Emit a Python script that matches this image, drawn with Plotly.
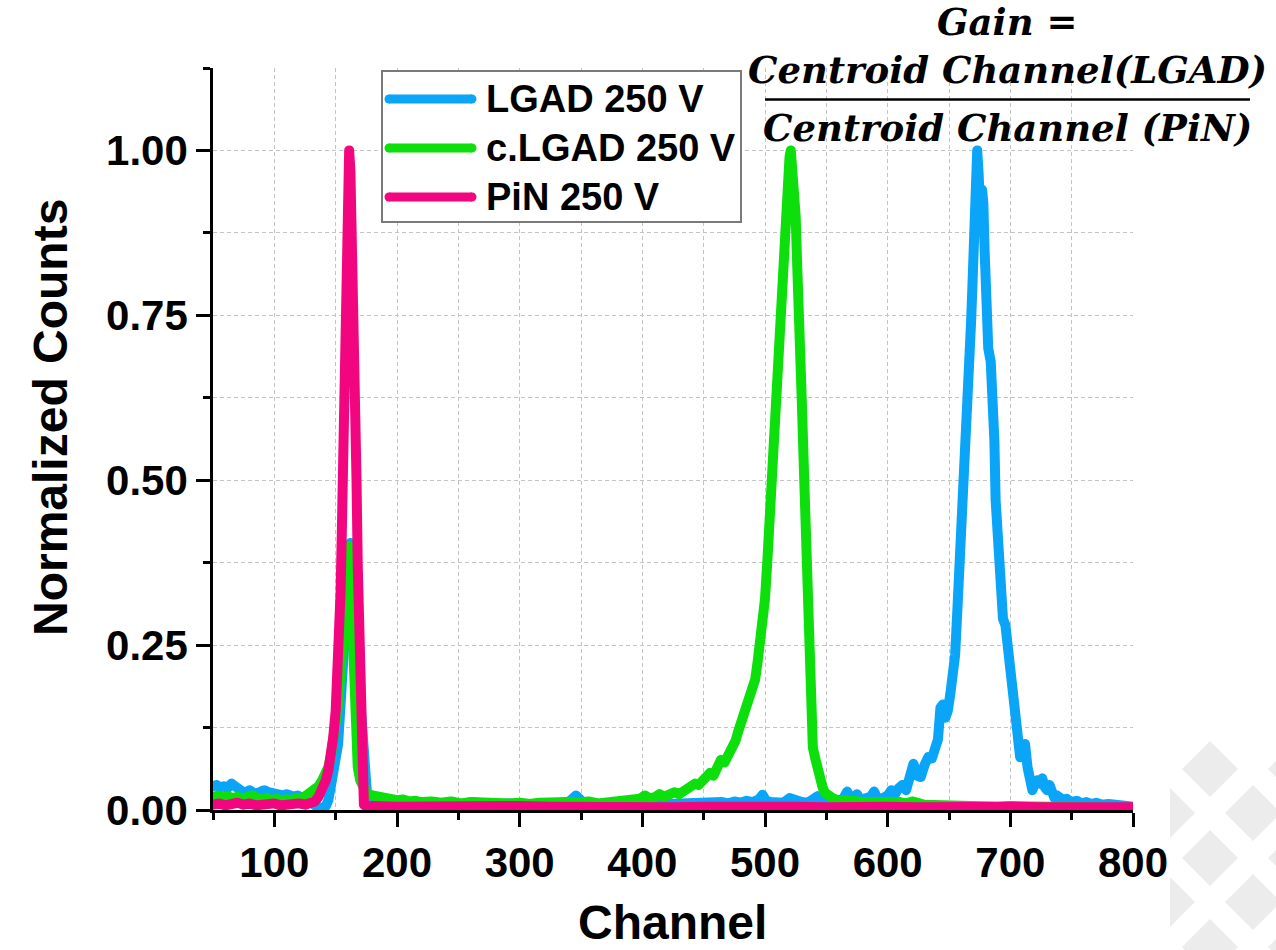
import plotly.graph_objects as go

# ---- spectra: channel / normalized counts ----
LGAD_CH = [50, 53, 56, 59, 62, 65, 68, 71, 74, 77, 80, 83, 86, 89, 92, 95, 98,
           101, 104, 107, 110, 113, 116, 119, 122, 125, 128, 131, 134, 137, 140,
           142, 144, 146, 148, 150, 152, 154, 156, 158, 159, 160, 161, 162, 163,
           164, 166, 168, 170, 171, 172, 173, 174, 176, 180, 185, 190, 195,
           200, 210, 220, 230, 240, 250, 260, 270, 280, 290, 300, 310, 320, 330,
           340, 346, 352, 360, 370, 380, 390, 400, 410, 420, 430, 440,
           445, 450, 455, 460, 465, 470, 475, 480, 485, 490, 495, 498, 501, 505,
           510, 515, 520, 525, 530, 535, 540, 543, 546, 550, 555, 560, 564, 567,
           570, 575, 578, 582, 586, 589, 592, 596, 600, 603, 606, 609, 612, 615,
           618, 621, 624, 627, 630, 633, 636, 639, 641, 643, 645, 647, 649, 651,
           653, 655, 657, 659, 661, 663, 665, 667, 668, 669, 670, 671, 672, 673,
           674, 675, 676, 677, 678, 679, 680, 681, 682, 684, 686, 687, 688, 690,
           692, 693, 694, 696, 698, 700, 702, 704, 706, 708, 710, 712, 714, 716,
           718, 720, 722, 724, 726, 728, 730, 732, 734, 736, 738, 740, 743, 746,
           750, 754, 758, 762, 766, 770, 775, 780, 785, 790, 795, 800]
LGAD_CNT = [0.036, 0.038, 0.034, 0.036, 0.033, 0.040, 0.036, 0.030, 0.028, 0.027,
            0.030, 0.026, 0.025, 0.028, 0.030, 0.027, 0.025, 0.027, 0.024, 0.022,
            0.024, 0.021, 0.020, 0.022, 0.020, 0.018, 0.015, 0.010, 0.006, 0.003,
            0.002, 0.006, 0.015, 0.035, 0.055, 0.070, 0.100, 0.160, 0.220, 0.290,
            0.330, 0.370, 0.400, 0.405, 0.330, 0.280, 0.260, 0.220, 0.170, 0.120,
            0.080, 0.045, 0.020, 0.012, 0.010, 0.011, 0.009, 0.010,
            0.010, 0.008, 0.010, 0.009, 0.011, 0.008, 0.012, 0.009, 0.008, 0.010,
            0.008, 0.009, 0.008, 0.010, 0.012, 0.022, 0.011, 0.009, 0.010, 0.008,
            0.009, 0.010, 0.011, 0.009, 0.010, 0.012,
            0.010, 0.013, 0.011, 0.014, 0.012, 0.010, 0.013, 0.011, 0.014, 0.012,
            0.016, 0.023, 0.014, 0.012, 0.013, 0.011, 0.018, 0.013, 0.012, 0.011,
            0.015, 0.021, 0.014, 0.012, 0.015, 0.013, 0.018, 0.028, 0.016, 0.024,
            0.015, 0.017, 0.020, 0.028, 0.016, 0.018, 0.022, 0.030, 0.024, 0.033,
            0.038, 0.030, 0.055, 0.070, 0.052, 0.050, 0.068, 0.080, 0.078, 0.095,
            0.107, 0.155, 0.160, 0.140, 0.150, 0.175, 0.205, 0.235, 0.310, 0.380,
            0.450, 0.500, 0.570, 0.660, 0.740, 0.790, 0.840, 0.900, 0.960, 1.000,
            0.970, 0.930, 0.900, 0.940, 0.920, 0.850, 0.790, 0.730, 0.700, 0.680,
            0.620, 0.560, 0.470, 0.400, 0.370, 0.330, 0.290, 0.280, 0.240, 0.200,
            0.160, 0.145, 0.120, 0.080, 0.090, 0.100, 0.065, 0.040, 0.030, 0.040,
            0.045, 0.040, 0.048, 0.035, 0.030, 0.038, 0.022, 0.018, 0.022, 0.018,
            0.015, 0.017, 0.012, 0.014, 0.010, 0.012, 0.009, 0.011, 0.008, 0.009,
            0.007, 0.008, 0.006, 0.005]

CLGAD_CH = [50, 54, 58, 62, 66, 70, 74, 78, 82, 86, 90, 94, 98, 102, 106, 110,
            114, 118, 122, 126, 130, 133, 136, 139, 142, 144, 146, 148, 150, 152,
            154, 156, 158, 159, 160, 161, 162, 163, 164, 165, 166, 167, 168, 170,
            172, 175, 180, 185, 190, 195, 200, 205, 210, 215, 220, 228, 236, 244,
            252, 260, 268, 276, 284, 292, 300, 308, 316, 324, 332, 340, 348, 356,
            364, 372, 380, 388, 394, 398, 402, 406, 410, 414, 418, 422, 426, 430,
            434, 437, 440, 443, 446, 449, 452, 455, 458, 461, 464, 467, 470, 473,
            476, 478, 480, 482, 484, 486, 488, 490, 492, 494, 496, 498, 500, 502,
            504, 506, 508, 510, 512, 514, 516, 518, 520, 521, 522, 523, 524, 525,
            526, 527, 528, 530, 532, 534, 535, 536, 537, 538, 539, 541, 543, 545,
            547, 549, 552, 556, 560, 565, 570, 580, 590, 600, 610, 615, 620, 630,
            640, 650, 660, 670, 680, 690, 700, 720, 740, 760, 780, 800]
CLGAD_CNT = [0.020, 0.022, 0.019, 0.021, 0.018, 0.020, 0.017, 0.019, 0.022, 0.018,
             0.016, 0.018, 0.015, 0.017, 0.014, 0.016, 0.015, 0.018, 0.017, 0.022,
             0.028, 0.030, 0.036, 0.045, 0.055, 0.065, 0.080, 0.100, 0.120, 0.160,
             0.210, 0.270, 0.330, 0.360, 0.390, 0.400, 0.360, 0.300, 0.240, 0.180,
             0.130, 0.090, 0.065, 0.045, 0.032, 0.026, 0.022, 0.020, 0.018, 0.016,
             0.015, 0.016, 0.013, 0.014, 0.012, 0.013, 0.011, 0.013, 0.010, 0.012,
             0.011, 0.010, 0.012, 0.010, 0.011, 0.009, 0.011, 0.012, 0.010, 0.012,
             0.011, 0.013, 0.010, 0.012, 0.011, 0.013, 0.014, 0.017, 0.022, 0.018,
             0.019, 0.024, 0.020, 0.023, 0.027, 0.024, 0.030, 0.032, 0.035, 0.040,
             0.038, 0.046, 0.052, 0.056, 0.052, 0.062, 0.076, 0.072, 0.082, 0.092,
             0.105, 0.118, 0.128, 0.142, 0.158, 0.165, 0.176, 0.180, 0.198, 0.225,
             0.255, 0.285, 0.320, 0.380, 0.450, 0.520, 0.600, 0.680, 0.760, 0.840,
             0.900, 0.950, 0.990, 1.000, 0.980, 0.930, 0.950, 0.900, 0.840, 0.800,
             0.740, 0.620, 0.500, 0.380, 0.300, 0.230, 0.170, 0.120, 0.095, 0.078,
             0.060, 0.045, 0.034, 0.026, 0.020, 0.017, 0.015, 0.013, 0.014, 0.012,
             0.013, 0.011, 0.012, 0.010, 0.013, 0.008, 0.007, 0.008, 0.006, 0.007,
             0.006, 0.005, 0.006, 0.005, 0.004, 0.004, 0.003, 0.003]

PIN_CH = [50, 55, 60, 65, 70, 75, 80, 85, 90, 95, 100, 105, 110, 115, 120, 125,
          130, 133, 136, 138, 140, 142, 144, 146, 148, 150, 152, 154, 155, 156,
          157, 158, 159, 160, 161, 162, 163, 164, 165, 166, 167, 168, 169, 170,
          171, 172, 173, 175, 180, 200, 225, 250, 275, 300, 325, 350, 375, 400,
          425, 450, 475, 500, 525, 550, 575, 600, 625, 650, 675, 700, 725, 750,
          775, 800]
PIN_CNT = [0.008, 0.010, 0.007, 0.009, 0.011, 0.008, 0.010, 0.007, 0.009, 0.008,
           0.010, 0.007, 0.009, 0.008, 0.010, 0.008, 0.010, 0.013, 0.020, 0.028,
           0.035, 0.045, 0.060, 0.080, 0.110, 0.150, 0.220, 0.330, 0.420, 0.550,
           0.680, 0.800, 0.900, 0.970, 1.000, 0.970, 0.900, 0.800, 0.700, 0.600,
           0.500, 0.370, 0.250, 0.150, 0.080, 0.030, 0.008, 0.005, 0.006, 0.005,
           0.006, 0.004, 0.005, 0.006, 0.005, 0.004, 0.006, 0.005, 0.004, 0.005,
           0.006, 0.004, 0.005, 0.004, 0.006, 0.005, 0.004, 0.005, 0.004, 0.005,
           0.004, 0.005, 0.004, 0.004]

SERIES_NAMES = ["LGAD 250 V", "c.LGAD 250 V", "PiN 250 V"]
SERIES_COLORS = ["#0AA5F7", "#0CDF0C", "#F2067F"]

X_TICKS = [100, 200, 300, 400, 500, 600, 700, 800]
Y_TICKS = [0.0, 0.25, 0.5, 0.75, 1.0]

# ---- figure geometry (pixels) ----
W, H = 1276, 950
PL, PR, PT, PB = 213, 1133, 68, 810


def px(x):
    return (x - PL) / (PR - PL)


def py(y):
    return (PB - y) / (PB - PT)


FONT = "Liberation Sans, Arial, sans-serif"
GRID = "#c4c4c4"

fig = go.Figure()
for xs, ys, name, color in zip([LGAD_CH, CLGAD_CH, PIN_CH],
                               [LGAD_CNT, CLGAD_CNT, PIN_CNT],
                               SERIES_NAMES, SERIES_COLORS):
    fig.add_trace(go.Scatter(x=xs, y=ys, mode="lines", name=name,
                             line=dict(color=color, width=10),
                             showlegend=False, hoverinfo="skip"))

axis_common = dict(
    showline=True, linecolor="black", linewidth=2.5, mirror=False,
    ticks="outside", ticklen=14, tickwidth=2.5, tickcolor="black",
    showgrid=True, gridcolor=GRID, griddash="4px,3px", gridwidth=1,
    zeroline=False, automargin=False,
    tickfont=dict(family=FONT, size=42, color="black", weight="bold"),
)

fig.update_xaxes(range=[50, 800], tickvals=X_TICKS,
                 minor=dict(dtick=50, tick0=50, ticks="outside", ticklen=7,
                            tickwidth=2.5, tickcolor="black", showgrid=True,
                            gridcolor=GRID, griddash="4px,3px", gridwidth=1),
                 **axis_common)
fig.update_yaxes(range=[0, 1.125], tickvals=Y_TICKS, tickformat=".2f",
                 minor=dict(dtick=0.125, tick0=0, ticks="outside", ticklen=7,
                            tickwidth=2.5, tickcolor="black", showgrid=True,
                            gridcolor=GRID, griddash="4px,3px", gridwidth=1),
                 **axis_common)

shapes = []
annotations = []

# legend box with entries
shapes.append(dict(type="rect", xref="paper", yref="paper",
                   x0=px(382), x1=px(741), y0=py(222), y1=py(71),
                   line=dict(color="#7a7a7a", width=2), fillcolor="white",
                   layer="above"))
legend_rows = [99, 148, 197]
for name, color, ry in zip(SERIES_NAMES, SERIES_COLORS, legend_rows):
    shapes.append(dict(type="line", xref="paper", yref="paper",
                       x0=px(389), x1=px(472), y0=py(ry), y1=py(ry),
                       line=dict(color=color, width=9), layer="above"))
    for cx in (389, 472):
        shapes.append(dict(type="circle", xref="paper", yref="paper",
                           x0=px(cx - 4.5), x1=px(cx + 4.5),
                           y0=py(ry + 4.5), y1=py(ry - 4.5),
                           line=dict(width=0), fillcolor=color, layer="above"))
    annotations.append(dict(text=name, xref="paper", yref="paper",
                            x=px(484), y=py(ry), xanchor="left", yanchor="middle",
                            showarrow=False,
                            font=dict(family=FONT, size=38, color="black",
                                      weight="bold")))

# axis titles
annotations.append(dict(text="Normalized Counts", xref="paper", yref="paper",
                        x=px(50), y=py(418), textangle=-90, showarrow=False,
                        xanchor="center", yanchor="middle",
                        font=dict(family=FONT, size=48, color="black",
                                  weight="bold")))
annotations.append(dict(text="Channel", xref="paper", yref="paper",
                        x=px(672), y=py(922), showarrow=False,
                        xanchor="center", yanchor="middle",
                        font=dict(family=FONT, size=48, color="black",
                                  weight="bold")))

# gain definition
MATH_FONT = "DejaVu Serif, serif"
for txt, cy in [("Gain =", 22), ("Centroid Channel(LGAD)", 70),
                ("Centroid Channel (PiN)", 128)]:
    annotations.append(dict(text="<b><i>" + txt + "</i></b>", xref="paper",
                            yref="paper", x=px(1007), y=py(cy),
                            xanchor="center", yanchor="middle", showarrow=False,
                            font=dict(family=MATH_FONT, size=37, color="black")))
shapes.append(dict(type="line", xref="paper", yref="paper",
                   x0=px(765), x1=px(1250), y0=py(99.5), y1=py(99.5),
                   line=dict(color="black", width=2.5)))

# light diamond pattern in the lower right corner
DIAMONDS = [(1210, 769), (1296, 769), (1253, 813), (1210, 858), (1296, 858),
            (1253, 902), (1210, 947), (1296, 947)]
HALF = 28
for cx, cy in DIAMONDS:
    pts = [(cx, cy - HALF), (cx + HALF, cy), (cx, cy + HALF), (cx - HALF, cy)]
    path = "M " + " L ".join(f"{px(a):.5f},{py(b):.5f}" for a, b in pts) + " Z"
    shapes.append(dict(type="path", xref="paper", yref="paper", path=path,
                       fillcolor="#ececec", line=dict(width=0), layer="below"))
for cy in (813, 902):
    pts = [(1170, cy - 25), (1195, cy), (1170, cy + 25)]
    path = "M " + " L ".join(f"{px(a):.5f},{py(b):.5f}" for a, b in pts) + " Z"
    shapes.append(dict(type="path", xref="paper", yref="paper", path=path,
                       fillcolor="#ececec", line=dict(width=0), layer="below"))

fig.update_layout(
    width=W, height=H, autosize=False,
    margin=dict(l=PL, r=W - PR, t=PT, b=H - PB, pad=0, autoexpand=False),
    paper_bgcolor="white", plot_bgcolor="white",
    showlegend=False, shapes=shapes, annotations=annotations,
)

# round joins/caps on the spectrum lines
ROUND_JOINS = (
    "var st = document.createElement('style');"
    "st.textContent = '.js-line { stroke-linejoin: round; stroke-linecap: round; }';"
    "document.head.appendChild(st);"
)
fig.write_html("out.html", post_script=ROUND_JOINS)
